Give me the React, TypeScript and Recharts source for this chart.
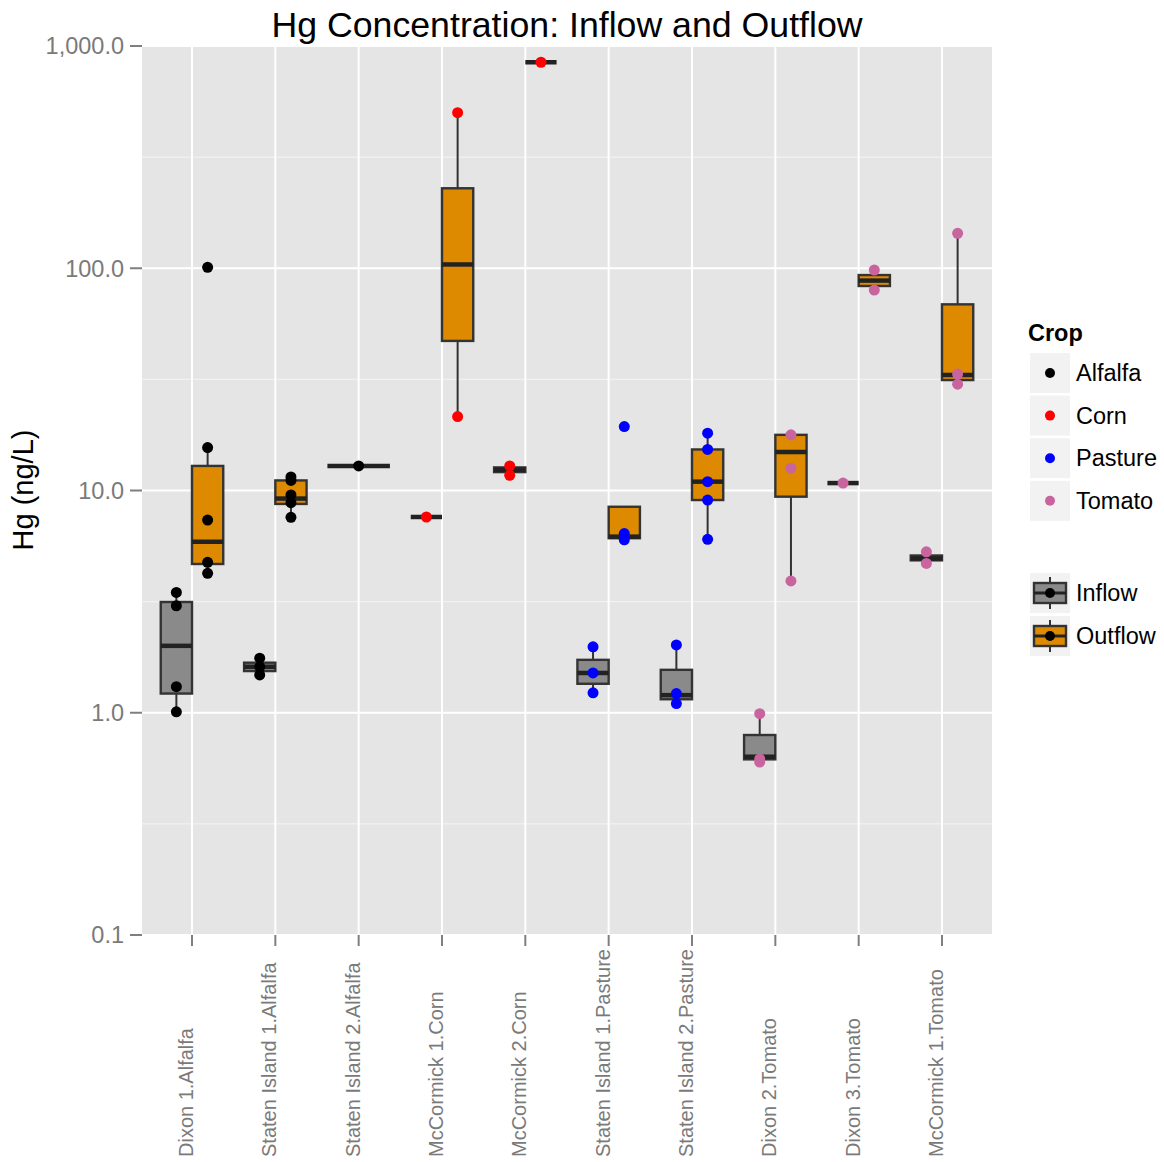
import * as Recharts from "recharts";
import { ComposedChart, XAxis, YAxis, CartesianGrid, Scatter } from "recharts";

const FONT = '"Liberation Sans", Arial, Helvetica, sans-serif';
const W = 1164;
const H = 1162;

const sites = [
  "Dixon 1.Alfalfa",
  "Staten Island 1.Alfalfa",
  "Staten Island 2.Alfalfa",
  "McCormick 1.Corn",
  "McCormick 2.Corn",
  "Staten Island 1.Pasture",
  "Staten Island 2.Pasture",
  "Dixon 2.Tomato",
  "Dixon 3.Tomato",
  "McCormick 1.Tomato",
];
const siteCrops = ["Alfalfa", "Alfalfa", "Alfalfa", "Corn", "Corn", "Pasture", "Pasture", "Tomato", "Tomato", "Tomato"];

const crops = ["Alfalfa", "Corn", "Pasture", "Tomato"];
const cropColors = ["#000000", "#FF0000", "#0000FF", "#C8659E"];
const flows = ["Inflow", "Outflow"];
const flowFills = ["#8A8A8A", "#DE8A00"];

// [min, q1, median, q3, max] in ng/L, null where a site has no samples
const inflowStats: (number[] | null)[] = [
  [1.01, 1.22, 2.0, 3.15, 3.48],
  [1.48, 1.54, 1.61, 1.68, 1.76],
  null,
  [7.6, 7.6, 7.6, 7.6, 7.6],
  [11.7, 12.1, 12.4, 12.7, 12.9],
  [1.23, 1.35, 1.51, 1.73, 1.98],
  [1.1, 1.15, 1.2, 1.56, 2.02],
  [0.6, 0.617, 0.634, 0.794, 0.99],
  [10.8, 10.8, 10.8, 10.8, 10.8],
  [4.7, 4.85, 4.95, 5.1, 5.3],
];
const outflowStats: (number[] | null)[] = [
  [4.24, 4.67, 5.88, 12.9, 15.6],
  [7.57, 8.7, 9.2, 11.1, 11.5],
  [12.9, 12.9, 12.9, 12.9, 12.9],
  [21.5, 47.1, 104, 229, 501],
  [845, 845, 845, 845, 845],
  [5.99, 6.1, 6.2, 8.45, 8.45],
  [6.03, 9.06, 10.96, 15.3, 18.1],
  [3.92, 9.38, 14.9, 17.8, 17.8],
  [79.8, 83.2, 88.0, 93.2, 98.2],
  [30.1, 31.4, 33.1, 68.8, 143.6],
];

// individual samples
const inflowPoints: number[][] = [
  [3.48, 3.03, 1.31, 1.01],
  [1.76, 1.61, 1.48],
  [],
  [7.6],
  [12.9, 11.7],
  [1.98, 1.51, 1.23],
  [2.02, 1.22, 1.1],
  [0.99, 0.62, 0.6],
  [10.8],
  [5.3, 4.7],
];
const outflowPoints: number[][] = [
  [101, 15.6, 7.36, 4.75, 4.24],
  [11.5, 11.1, 9.55, 8.81, 7.57],
  [12.9],
  [501, 21.5],
  [845],
  [19.4, 6.4, 6.0],
  [18.1, 15.3, 10.96, 9.06, 6.03],
  [17.8, 12.6, 3.92],
  [98.2, 79.8],
  [143.6, 33.4, 30.1],
];

const yTicks = [0.1, 1, 10, 100, 1000];
const yMinor = [0.316, 3.16, 31.6, 316];
const siteTicks = sites.map((_, i) => i + 1);

// boxes of one site share a 0.75-wide slot; a lone box takes the whole slot
const DODGE = 0.75;
const slot = (site: number, flow: number) => {
  const solo = !inflowStats[site] || !outflowStats[site];
  if (solo) return { center: site + 1, half: DODGE / 2 };
  return { center: site + 1 + (flow === 0 ? -DODGE / 4 : DODGE / 4), half: DODGE / 4 };
};

const pointsByCrop = crops.map((crop) => {
  const rows: { x: number; y: number }[] = [];
  sites.forEach((_, i) => {
    if (siteCrops[i] !== crop) return;
    [inflowPoints[i], outflowPoints[i]].forEach((vals, f) => {
      vals.forEach((v) => rows.push({ x: slot(i, f).center, y: v }));
    });
  });
  return rows;
});

const useXScale = (Recharts as any).useXAxisScale;
const useYScale = (Recharts as any).useYAxisScale;

const asFn = (s: any) => {
  if (!s) return null;
  if (typeof s === "function") return (v: number) => s(v) as number;
  if (typeof s.map === "function") return (v: number) => s.map(v) as number;
  return null;
};

const BoxLayer = () => {
  const xs = asFn(useXScale ? useXScale() : null);
  const ys = asFn(useYScale ? useYScale() : null);
  if (!xs || !ys) return null;
  const marks: any[] = [];
  sites.forEach((_, i) => {
    [inflowStats[i], outflowStats[i]].forEach((st, f) => {
      if (!st) return;
      const { center, half } = slot(i, f);
      const x0 = xs(center - half);
      const x1 = xs(center + half);
      const xm = xs(center);
      const [lo, q1, med, q3, hi] = st.map((v) => ys(v));
      marks.push(
        <g key={`${i}-${f}`}>
          <line x1={xm} x2={xm} y1={q3} y2={hi} stroke="#333" strokeWidth={2} />
          <line x1={xm} x2={xm} y1={q1} y2={lo} stroke="#333" strokeWidth={2} />
          <rect x={x0} y={q3} width={x1 - x0} height={q1 - q3} fill={flowFills[f]} stroke="#333" strokeWidth={2.4} />
          <line x1={x0} x2={x1} y1={med} y2={med} stroke="#222" strokeWidth={4.5} />
        </g>
      );
    });
  });
  return <g>{marks}</g>;
};

const fmtY = (v: number) =>
  v.toLocaleString("en-US", { minimumFractionDigits: 1, maximumFractionDigits: 1 });

const SiteTick = (props: any) => {
  const { x, payload } = props;
  return (
    <text
      transform={`translate(${x + 1}, ${H - 5}) rotate(-90)`}
      textAnchor="start"
      fill="#7a7a7a"
      fontSize={20}
      fontFamily={FONT}
    >
      {sites[payload.value - 1]}
    </text>
  );
};

const FlowGlyph = ({ fill }: { fill: string }) => (
  <g>
    <line x1={20} x2={20} y1={4} y2={36} stroke="#333" strokeWidth={2} />
    <rect x={4} y={10} width={32} height={20} fill={fill} stroke="#333" strokeWidth={2.4} />
    <line x1={4} x2={36} y1={20} y2={20} stroke="#222" strokeWidth={3} />
    <circle cx={20} cy={20} r={5} fill="#000" />
  </g>
);

const Overlay = () => (
  <svg width={W} height={H} style={{ position: "absolute", left: 0, top: 0, pointerEvents: "none" }} fontFamily={FONT}>
    <text x={567} y={37} textAnchor="middle" fontSize={35.7} fill="#000">
      Hg Concentration: Inflow and Outflow
    </text>
    <text transform="translate(33, 490) rotate(-90)" textAnchor="middle" fontSize={29} fill="#000">
      Hg (ng/L)
    </text>
    <text x={1028} y={341} fontSize={23.5} fontWeight="bold" fill="#000">
      Crop
    </text>
    {crops.map((c, k) => {
      const top = 353 + k * 42.6;
      return (
        <g key={c}>
          <rect x={1030} y={top} width={40} height={40} fill="#F2F2F2" />
          <circle cx={1050} cy={top + 20} r={5} fill={cropColors[k]} />
          <text x={1076} y={top + 20} dominantBaseline="central" fontSize={23.5} fill="#000">
            {c}
          </text>
        </g>
      );
    })}
    {flows.map((fl, k) => {
      const top = 573 + k * 43;
      return (
        <g key={fl}>
          <rect x={1030} y={top} width={40} height={40} fill="#F2F2F2" />
          <g transform={`translate(1030, ${top})`}>
            <FlowGlyph fill={flowFills[k]} />
          </g>
          <text x={1076} y={top + 20} dominantBaseline="central" fontSize={23.5} fill="#000">
            {fl}
          </text>
        </g>
      );
    })}
  </svg>
);

export default function App() {
  return (
    <div style={{ position: "absolute", left: 0, top: 0, width: W, height: H, background: "#fff" }}>
      <ComposedChart width={W} height={H} margin={{ top: 46, right: 172, bottom: 0, left: 0 }}>
        <CartesianGrid fill="#E5E5E5" stroke="#F2F2F2" strokeWidth={1.2} vertical={false} horizontalValues={yMinor} />
        <CartesianGrid stroke="#FFFFFF" strokeWidth={2} horizontalValues={yTicks} verticalValues={siteTicks} />
        <XAxis
          dataKey="x"
          type="number"
          domain={[0.4, 10.6]}
          ticks={siteTicks}
          allowDataOverflow
          height={227}
          axisLine={false}
          tickSize={11}
          tickLine={{ stroke: "#7f7f7f", strokeWidth: 2 }}
          tick={<SiteTick />}
          interval={0}
        />
        <YAxis
          dataKey="y"
          type="number"
          scale="log"
          domain={[0.1, 1000]}
          ticks={yTicks}
          allowDataOverflow
          width={142}
          axisLine={false}
          tickSize={12}
          tickMargin={6}
          tickLine={{ stroke: "#7f7f7f", strokeWidth: 2 }}
          tickFormatter={fmtY}
          tick={{ fill: "#7a7a7a", fontSize: 23.5, fontFamily: FONT }}
          interval={0}
        />
        <BoxLayer />
        {crops.map((c, k) => (
          <Scatter
            key={c}
            name={c}
            data={pointsByCrop[k]}
            isAnimationActive={false}
            shape={(p: any) => <circle cx={p.cx} cy={p.cy} r={5.5} fill={cropColors[k]} />}
          />
        ))}
      </ComposedChart>
      <Overlay />
    </div>
  );
}
